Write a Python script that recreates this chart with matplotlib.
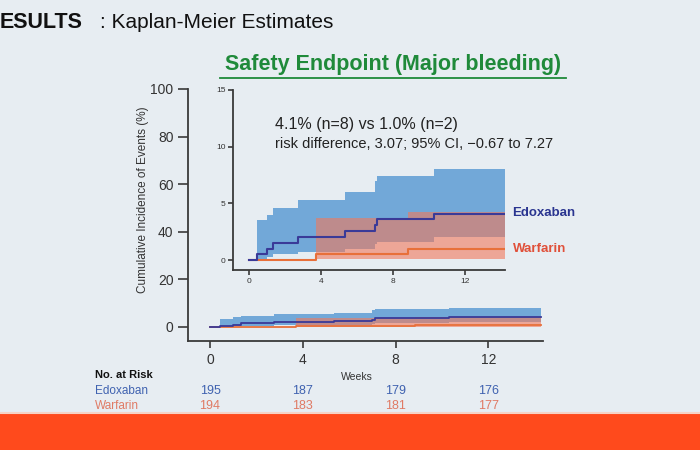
import matplotlib.pyplot as plt
from matplotlib.lines import Line2D
from matplotlib.patches import Rectangle

plt.rcParams['font.family'] = ['Liberation Sans', 'DejaVu Sans']

# Kaplan-Meier data (cumulative incidence, %)
edo_t = [0, 0.43, 0.98, 1.35, 2.74, 5.33, 7.0, 7.1, 10.3, 14.25]
edo_est = [0, 0.5, 1.0, 1.5, 2.05, 2.6, 3.1, 3.6, 4.1, 4.1]
edo_lo = [0, 0.07, 0.25, 0.5, 0.75, 1.0, 1.4, 1.6, 2.05, 2.05]
edo_hi = [0, 3.5, 4.0, 4.6, 5.3, 6.0, 7.0, 7.4, 8.0, 8.0]

war_t = [0, 3.72, 8.85, 14.25]
war_est = [0, 0.5, 1.0, 1.0]
war_lo = [0, 0.05, 0.1, 0.1]
war_hi = [0, 3.7, 4.2, 4.2]

risk_weeks = [0, 4, 8, 12]
risk_edo = [195, 187, 179, 176]
risk_war = [194, 183, 181, 177]

BG = '#e7edf2'
BLUE_BAND = '#72a8d8'
RED_BAND = '#f2785a'
EDO_LINE = '#3a3a98'
WAR_LINE = '#e8703a'
SPINE = '#3a3a3a'


def draw_km(ax, lw):
    """Рисуем кривые и доверительные интервалы"""
    ax.fill_between(edo_t, edo_lo, edo_hi, step='post', color=BLUE_BAND, lw=0)
    ax.fill_between(war_t, war_lo, war_hi, step='post', color=RED_BAND, alpha=0.6, lw=0)
    ax.step(war_t, war_est, where='post', color=WAR_LINE, lw=lw)
    ax.step(edo_t, edo_est, where='post', color=EDO_LINE, lw=lw)


def style_axes(ax, size, tlen):
    ax.set_facecolor('none')
    for s in ['top', 'right']:
        ax.spines[s].set_visible(False)
    for s in ['left', 'bottom']:
        ax.spines[s].set_color(SPINE)
        ax.spines[s].set_linewidth(1.3)
    ax.tick_params(colors=SPINE, labelsize=size, length=tlen, width=1.2, labelcolor='#333333')


fig = plt.figure(figsize=(7, 4.5), dpi=100)
fig.patch.set_facecolor(BG)

# main axes
ax = fig.add_axes([188 / 700, 1 - 341 / 450, 355 / 700, 252 / 450])
draw_km(ax, 1.3)
ax.set_xlim(-0.95, 14.35)
ax.set_ylim(-5.9, 100)
ax.set_xticks(risk_weeks)
ax.set_yticks([0, 20, 40, 60, 80, 100])
style_axes(ax, 10, 7)
ax.tick_params(axis='x', length=5, pad=4)

# inset
ins = fig.add_axes([233 / 700, 1 - 270 / 450, 272 / 700, 180 / 450])
draw_km(ins, 1.5)
ins.set_xlim(-0.9, 14.25)
ins.set_ylim(-0.88, 15)
ins.set_xticks(risk_weeks)
ins.set_yticks([0, 5, 10, 15])
style_axes(ins, 6, 3.5)
ins.tick_params(pad=2)

ins.text(1.45, 12.0, '4.1% (n=8) vs 1.0% (n=2)', fontsize=11.5, color='#222222', va='center')
ins.text(1.45, 10.2, 'risk difference, 3.07; 95% CI, \u22120.67 to 7.27', fontsize=10.5,
         color='#222222', va='center')

fig.text(512 / 700, 1 - 213 / 450, 'Edoxaban', fontsize=9.5, fontweight='bold',
         color='#2a3590', va='center')
fig.text(513 / 700, 1 - 249 / 450, 'Warfarin', fontsize=9.5, fontweight='bold',
         color='#e0503a', va='center')

fig.text(143 / 700, 1 - 200 / 450, 'Cumulative Incidence of Events (%)', rotation=90,
         fontsize=8.5, color='#333333', ha='center', va='center')
fig.text(357 / 700, 1 - 377 / 450, 'Weeks', fontsize=7.5, color='#333333',
         ha='center', va='center')

# titles
fig.text(0.0, 1 - 22 / 450, 'ESULTS', fontsize=15.5, fontweight='bold', color='#111111',
         va='center')
fig.text(100 / 700, 1 - 22 / 450, ': Kaplan-Meier Estimates', fontsize=15,
         color='#111111', va='center')
fig.text(393 / 700, 1 - 65 / 450, 'Safety Endpoint (Major bleeding)', fontsize=15.5,
         fontweight='bold', color='#1f8a3a', ha='center', va='center')
fig.add_artist(Line2D([220 / 700, 566 / 700], [1 - 78 / 450, 1 - 78 / 450],
                      color='#1f8a3a', lw=1.3))

# number at risk
fig.text(95 / 700, 1 - 375 / 450, 'No. at Risk', fontsize=8, fontweight='bold',
         color='#111111', va='center')
fig.text(95 / 700, 1 - 391 / 450, 'Edoxaban', fontsize=8.5, color='#3f62b0', va='center')
fig.text(95 / 700, 1 - 406 / 450, 'Warfarin', fontsize=8.5, color='#e07a64', va='center')
for w, e, r in zip(risk_weeks, risk_edo, risk_war):
    xf = ax.transData.transform((w, 0))[0]
    xf = fig.transFigure.inverted().transform((xf, 0))[0]
    fig.text(xf, 1 - 391 / 450, str(e), fontsize=9, color='#3f62b0', ha='center', va='center')
    fig.text(xf, 1 - 406 / 450, str(r), fontsize=9, color='#e07a64', ha='center', va='center')

# orange footer bar
fig.add_artist(Rectangle((0, 0), 1, 37 / 450, transform=fig.transFigure,
                         color='#ff4a1c', lw=0))
fig.add_artist(Line2D([0, 1], [37 / 450, 37 / 450], color='#f6d3c6', lw=1.5))

fig.savefig('out.png', dpi=100, facecolor=BG)
